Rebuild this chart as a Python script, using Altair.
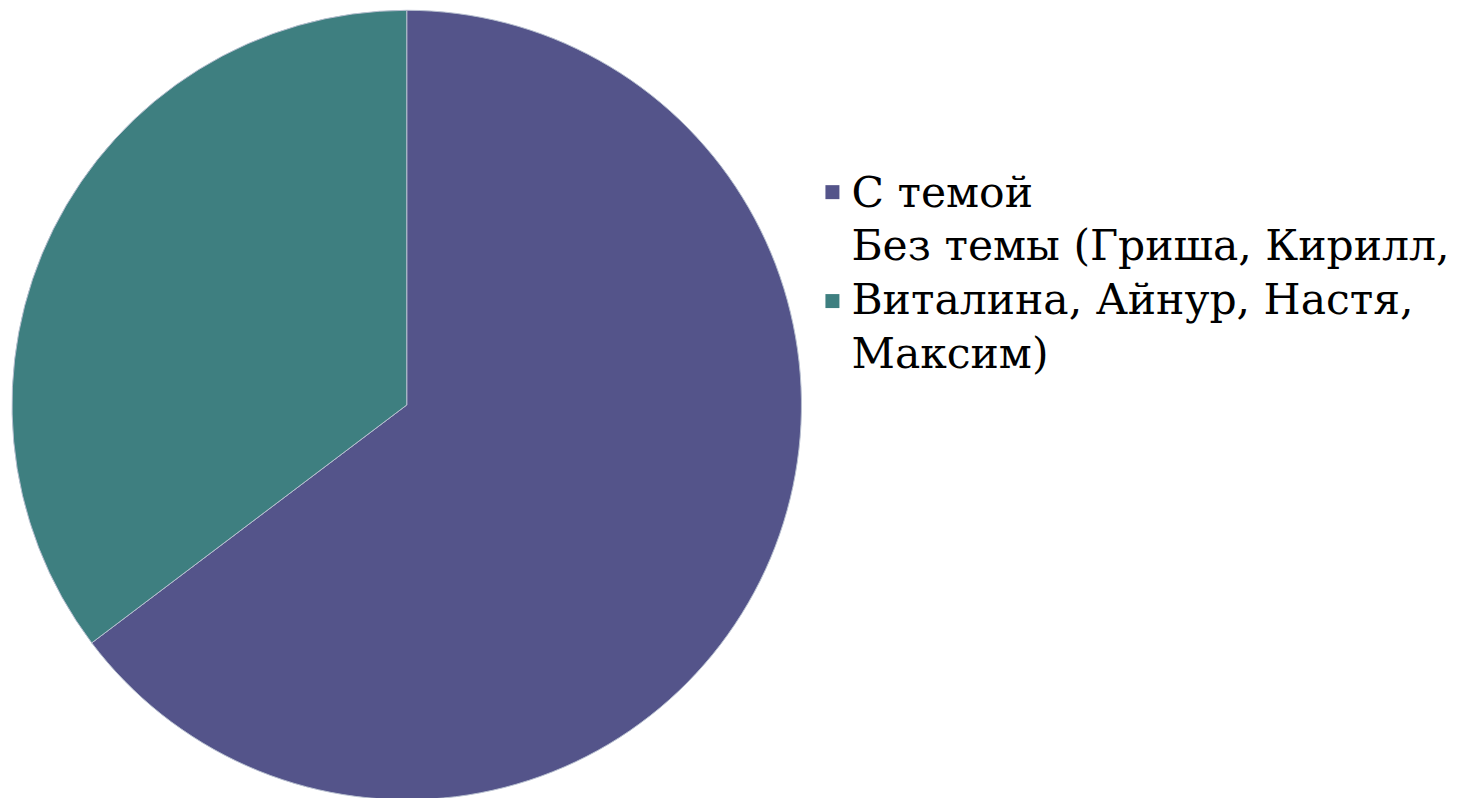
import altair as alt
import pandas as pd

categories = ["С темой", "Без темы"]
values = [11, 6]
order = [0, 1]
colors = ["#54548A", "#3E7F80"]
legend_lines = [
    ["С темой"],
    ["Без темы (Гриша, Кирилл,", "Виталина, Айнур, Настя,", "Максим)"],
]

df = pd.DataFrame({"cat": categories, "val": values, "ord": order})
color_scale = alt.Scale(domain=categories, range=colors)

base = alt.Chart(df)

pie = base.mark_arc(outerRadius=395, stroke="#b8c0d0", strokeWidth=1).encode(
    theta=alt.Theta("val:Q", stack=True),
    order=alt.Order("ord:Q"),
    x=alt.value(399),
    y=alt.value(396),
    color=alt.Color("cat:N", scale=color_scale, legend=None),
)

FONT = "DejaVu Serif"
FS = 42.5

layers = [pie]
sym_y = [183, 292]
txt_y = [198, 251]
for i, cat in enumerate(categories):
    sq = base.transform_filter(alt.datum.cat == cat).mark_square(size=196, opacity=1, strokeWidth=0).encode(
        x=alt.value(825), y=alt.value(sym_y[i]),
        color=alt.Color("cat:N", scale=color_scale, legend=None),
    )
    tx = base.transform_filter(alt.datum.cat == cat).mark_text(
        text=legend_lines[i], align="left", baseline="alphabetic",
        font=FONT, fontSize=FS, lineHeight=54, color="#000000",
    ).encode(x=alt.value(844), y=alt.value(txt_y[i]))
    layers += [sq, tx]

chart = alt.layer(*layers).properties(width=1440, height=782, padding=0).configure_view(stroke=None)

chart.save("out.html", embed_options={"renderer": "svg", "actions": False})
